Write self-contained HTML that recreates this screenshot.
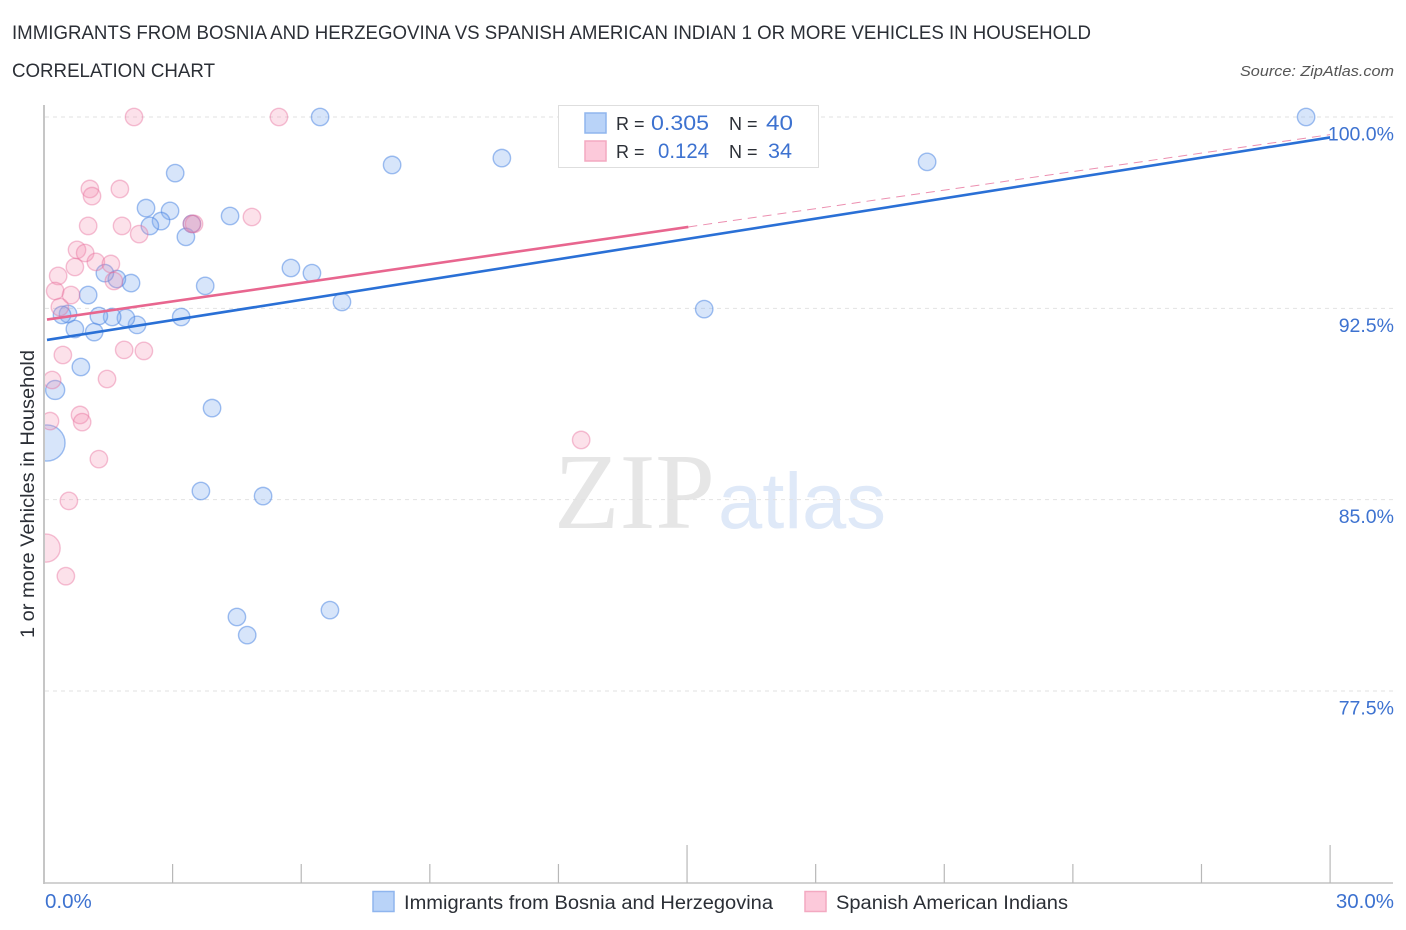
<!DOCTYPE html>
<html lang="en">
<head>
<meta charset="utf-8">
<title>Correlation Chart</title>
<style>
html,body{margin:0;padding:0;background:#fff;width:1406px;height:930px;overflow:hidden}
svg{display:block;font-family:"Liberation Sans",sans-serif}
</style>
</head>
<body>
<svg id="chart" width="1406" height="930" viewBox="0 0 1406 930" xmlns="http://www.w3.org/2000/svg">
<defs><clipPath id="plot-clip"><rect x="45" y="100" width="1350" height="783"/></clipPath></defs>
<text x="12" y="39" font-size="19" fill="#2b2f36" textLength="1079" lengthAdjust="spacingAndGlyphs">IMMIGRANTS FROM BOSNIA AND HERZEGOVINA VS SPANISH AMERICAN INDIAN 1 OR MORE VEHICLES IN HOUSEHOLD</text>
<text x="12" y="77" font-size="19" fill="#2b2f36" textLength="203" lengthAdjust="spacingAndGlyphs">CORRELATION CHART</text>
<text x="1394" y="76" font-size="15" font-style="italic" fill="#555" text-anchor="end" textLength="154" lengthAdjust="spacingAndGlyphs">Source: ZipAtlas.com</text>
<g id="watermark">
<text x="554" y="528" font-family="'Liberation Serif',serif" font-size="108" fill="#e6e6e6" textLength="161" lengthAdjust="spacingAndGlyphs">ZIP</text>
<text x="718" y="528" font-family="'Liberation Sans',sans-serif" font-size="79" fill="#dfe9f8" textLength="168" lengthAdjust="spacingAndGlyphs">atlas</text>
</g>
<g id="grid"></g>
<g id="axes"></g>
<g id="points" clip-path="url(#plot-clip)"></g>
<g id="trends"></g>
<g id="tick-labels"></g>
<text transform="translate(34,494) rotate(-90)" font-size="19.5" fill="#2b2f36" text-anchor="middle" textLength="288" lengthAdjust="spacingAndGlyphs">1 or more Vehicles in Household</text>
<g>
<rect x="558.5" y="105.5" width="260" height="62" fill="#fff" stroke="#dedede" stroke-width="1"/>
<rect x="585" y="113" width="21" height="20" fill="#b9d3f8" stroke="#8fb5ee" stroke-width="1.5"/>
<rect x="585" y="141" width="21" height="20" fill="#fcc9da" stroke="#f3a9c1" stroke-width="1.5"/>
<text x="616" y="130" font-size="18" fill="#2b2f36">R =</text>
<text x="651" y="130" font-size="21" fill="#3d72d0" textLength="58" lengthAdjust="spacingAndGlyphs">0.305</text>
<text x="729" y="130" font-size="18" fill="#2b2f36">N =</text>
<text x="766" y="130" font-size="21" fill="#3d72d0" textLength="27" lengthAdjust="spacingAndGlyphs">40</text>
<text x="616" y="158" font-size="18" fill="#2b2f36">R =</text>
<text x="658" y="158" font-size="21" fill="#3d72d0" textLength="51" lengthAdjust="spacingAndGlyphs">0.124</text>
<text x="729" y="158" font-size="18" fill="#2b2f36">N =</text>
<text x="768" y="158" font-size="21" fill="#3d72d0" textLength="24" lengthAdjust="spacingAndGlyphs">34</text>
</g>
<g>
<rect x="373" y="891.5" width="21" height="20" fill="#b9d3f8" stroke="#8fb5ee" stroke-width="1.5"/>
<text x="404" y="909" font-size="19" fill="#2b2f36" textLength="369" lengthAdjust="spacingAndGlyphs">Immigrants from Bosnia and Herzegovina</text>
<rect x="805" y="891.5" width="21" height="20" fill="#fcc9da" stroke="#f3a9c1" stroke-width="1.5"/>
<text x="836" y="909" font-size="19" fill="#2b2f36" textLength="232" lengthAdjust="spacingAndGlyphs">Spanish American Indians</text>
</g>
</svg>
<script>
const yTickValues = [100, 92.5, 85, 77.5];
const yTickLabels = ["100.0%", "92.5%", "85.0%", "77.5%"];
const xTickValues = [0, 3, 6, 9, 12, 15, 18, 21, 24, 27, 30];
const xMajorTicks = [15, 30];
const xEndValues = [0, 30];
const xEndLabels = ["0.0%", "30.0%"];

const blueX = [6.44, 8.12, 10.68, 20.60, 29.44, 3.06, 2.38, 2.94, 2.73, 2.47, 3.45, 3.31, 4.34, 5.76, 6.25, 6.95, 3.76, 2.03, 1.70, 1.42, 1.03, 3.20, 2.17, 1.91, 1.59, 1.28, 0.56, 0.42, 0.72, 1.17, 0.86, 0.26, 0.07, 3.92, 3.66, 5.11, 4.50, 4.74, 6.67, 15.40];
const blueY = [100, 98.12, 98.39, 98.24, 100, 97.80, 96.43, 96.32, 95.92, 95.73, 95.81, 95.30, 96.12, 94.08, 93.88, 92.75, 93.38, 93.49, 93.65, 93.88, 93.02, 92.16, 91.85, 92.12, 92.16, 92.20, 92.28, 92.24, 91.69, 91.57, 90.20, 89.30, 87.22, 88.59, 85.34, 85.14, 80.40, 79.69, 80.67, 92.47];
const blueWeight = [1, 1, 1, 1, 1, 1, 1, 1, 1, 1, 1, 1, 1, 1, 1, 1, 1, 1, 1, 1, 1, 1, 1, 1, 1, 1, 1, 1, 1, 1, 1, 1.2, 4.3, 1, 1, 1, 1, 1, 1, 1];

const pinkX = [2.10, 5.48, 1.07, 1.12, 1.77, 1.03, 1.82, 2.22, 3.45, 3.50, 4.85, 0.77, 0.96, 1.21, 1.56, 0.72, 0.33, 0.26, 0.63, 1.63, 0.37, 0.44, 1.87, 2.33, 1.47, 0.19, 0.84, 0.89, 0.14, 1.28, 0.58, 0.05, 0.51, 12.53];
const pinkY = [100, 100, 97.18, 96.90, 97.18, 95.73, 95.73, 95.41, 95.81, 95.81, 96.08, 94.79, 94.67, 94.32, 94.24, 94.12, 93.77, 93.18, 93.02, 93.57, 92.55, 90.67, 90.87, 90.83, 89.73, 89.69, 88.32, 88.04, 88.08, 86.59, 84.95, 83.10, 82.00, 87.34];
const pinkWeight = [1, 1, 1, 1, 1, 1, 1, 1, 1, 1, 1, 1, 1, 1, 1, 1, 1, 1, 1, 1, 1, 1, 1, 1, 1, 1, 1, 1, 1, 1, 1, 2.6, 1, 1];

const blueTrendX = [0.07, 30];
const blueTrendY = [91.26, 99.20];
const pinkTrendX = [0.07, 15.03];
const pinkTrendY = [92.06, 95.69];
const pinkDashX = [15.03, 30];
const pinkDashY = [95.69, 99.31];

const NS = "http://www.w3.org/2000/svg";
const xScale = function (v) { return 44 + v * 42.87; };
const yScale = function (v) { return 117 + (100 - v) * 25.51; };

function make(tag, parent, attrs, text) {
  const el = document.createElementNS(NS, tag);
  Object.keys(attrs).forEach(function (k) { el.setAttribute(k, attrs[k]); });
  if (text !== undefined) el.textContent = text;
  parent.appendChild(el);
  return el;
}

const gridGroup = document.getElementById("grid");
const axesGroup = document.getElementById("axes");
const pointGroup = document.getElementById("points");
const trendGroup = document.getElementById("trends");
const labelGroup = document.getElementById("tick-labels");

yTickValues.forEach(function (v, i) {
  const line = make("line", gridGroup, {x1: 45, x2: 1393, y1: yScale(v), y2: yScale(v), stroke: "#e2e2e2", "stroke-width": 1, "stroke-dasharray": "4 4"});
  
  
  const label = make("text", labelGroup, {x: 1394, y: yScale(v) + 23.5, "font-size": 19.5, fill: "#3d72d0", "text-anchor": "end"}, yTickLabels[i]);
  
  
});

const yAxis = make("line", axesGroup, {x1: 44, x2: 44, y1: 105, y2: 884, stroke: "#b4b4b4", "stroke-width": 1.5});


const xAxis = make("line", axesGroup, {x1: 44, x2: 1393, y1: 883, y2: 883, stroke: "#c4c4c4", "stroke-width": 1.5});



xTickValues.forEach(function (v) {
  if (v === 0) return;
  const top = xMajorTicks.indexOf(v) >= 0 ? 845 : 864;
  const tick = make("line", axesGroup, {x1: xScale(v), x2: xScale(v), y1: top, y2: 883, stroke: "#b8b8b8", "stroke-width": 1.2});
  
  
});

xEndValues.forEach(function (v, i) {
  const label = make("text", labelGroup, {x: i === 0 ? xScale(v) + 1 : 1394, y: 908, "font-size": 20.5, fill: "#3d72d0", "text-anchor": i === 0 ? "start" : "end"}, xEndLabels[i]);
  
  
});

blueX.forEach(function (v, i) {
  const dot = make("circle", pointGroup, {cx: xScale(v), cy: yScale(blueY[i]), r: 8.7 * Math.sqrt(blueWeight[i]), fill: "rgba(130,175,240,0.32)", stroke: "rgba(70,130,225,0.5)", "stroke-width": 1.4});
  
  
});

pinkX.forEach(function (v, i) {
  const dot = make("circle", pointGroup, {cx: xScale(v), cy: yScale(pinkY[i]), r: 8.7 * Math.sqrt(pinkWeight[i]), fill: "rgba(245,140,175,0.26)", stroke: "rgba(232,110,155,0.42)", "stroke-width": 1.4});
  
  
});

const pinkDash = make("line", trendGroup, {x1: xScale(pinkDashX[0]), x2: xScale(pinkDashX[1]), y1: yScale(pinkDashY[0]), y2: yScale(pinkDashY[1]), stroke: "#ec8fb0", "stroke-width": 1, "stroke-dasharray": "9 6"});


const blueTrend = make("line", trendGroup, {x1: xScale(blueTrendX[0]), x2: xScale(blueTrendX[1]), y1: yScale(blueTrendY[0]), y2: yScale(blueTrendY[1]), stroke: "#2a70d6", "stroke-width": 2.6});


const pinkTrend = make("line", trendGroup, {x1: xScale(pinkTrendX[0]), x2: xScale(pinkTrendX[1]), y1: yScale(pinkTrendY[0]), y2: yScale(pinkTrendY[1]), stroke: "#e8668f", "stroke-width": 2.6});


</script>
</body>
</html>
